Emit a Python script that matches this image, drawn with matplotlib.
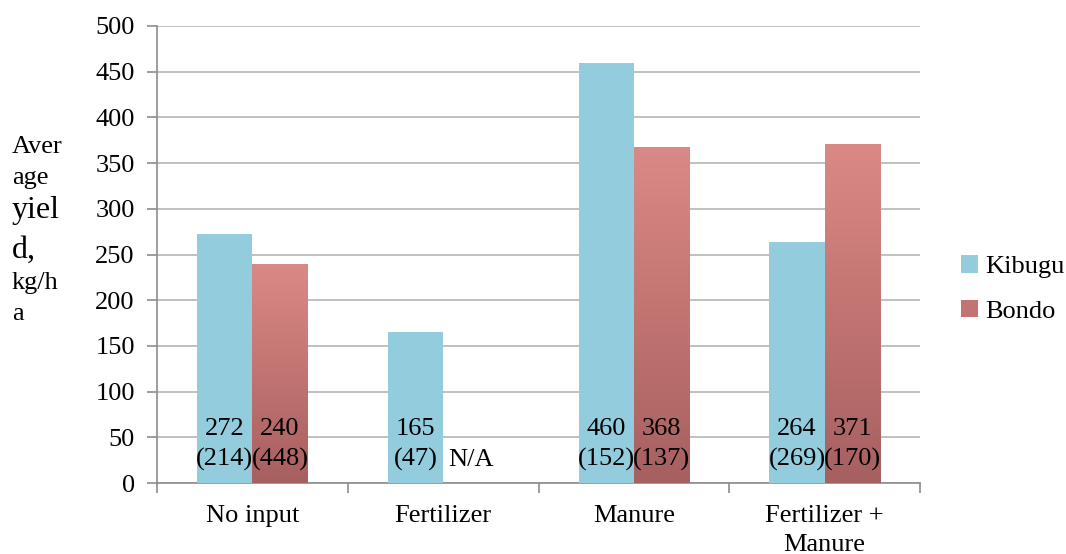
import numpy as np
import matplotlib.pyplot as plt
import matplotlib.transforms as mtransforms
from matplotlib.colors import LinearSegmentedColormap
from matplotlib.patches import Patch

categories = ["No input", "Fertilizer", "Manure", "Fertilizer +\nManure"]
kibugu = [272, 165, 460, 264]
bondo = [240, None, 368, 371]
kibugu_n = [214, 47, 152, 269]
bondo_n = [448, None, 137, 170]

plt.rcParams['font.family'] = ['Liberation Serif', 'DejaVu Serif']

fig = plt.figure(figsize=(10.66, 5.54), dpi=100)
ax = fig.add_axes([157 / 1066, 1 - 483 / 554, (920 - 157) / 1066, (483 - 26) / 554])

blue = "#93cddd"
bondo_cmap = LinearSegmentedColormap.from_list("bondo", ["#a66060", "#c27472", "#da8a86"])

x = np.arange(len(categories))
w = 0.29
FS = 19

ax.set_xlim(-0.5, len(categories) - 0.5)
ax.set_ylim(0, 500)

lift = ax.transData + mtransforms.ScaledTranslation(0, 0.12, fig.dpi_scale_trans)
grad = np.linspace(0, 1, 256).reshape(-1, 1)
for i in range(len(categories)):
    ax.bar(x[i] - w / 2, kibugu[i], w, color=blue, zorder=3)
    ax.text(x[i] - w / 2, 0, f"{kibugu[i]}\n({kibugu_n[i]})", ha="center", va="bottom",
            fontsize=FS, linespacing=1.42, zorder=5, transform=lift)
    if bondo[i] is not None:
        bb = ax.bar(x[i] + w / 2, bondo[i], w, color="none", zorder=3)[0]
        im = ax.imshow(grad, cmap=bondo_cmap, origin="lower", aspect="auto",
                       extent=[x[i], x[i] + w, 0, bondo[i]], zorder=3)
        im.set_clip_path(bb)
        label = f"{bondo[i]}\n({bondo_n[i]})"
    else:
        label = "N/A"
    ax.text(x[i] + w / 2, 0, label, ha="center", va="bottom", fontsize=FS,
            linespacing=1.42, zorder=5, transform=lift)

ax.set_xlim(-0.5, len(categories) - 0.5)
ax.set_ylim(0, 500)
ax.set_yticks(np.arange(0, 501, 50))
ax.yaxis.grid(True, color="#b5b5b5", linewidth=1.2, zorder=0)
ax.set_axisbelow(True)

ax.set_xticks(np.arange(-0.5, len(categories) - 0.4, 1.0))
ax.set_xticklabels([])
ax.set_xticks(x, minor=True)
ax.set_xticklabels(categories, minor=True, fontsize=FS, linespacing=1.4)
ax.tick_params(axis="x", which="minor", length=0, pad=16)
ax.tick_params(axis="x", which="major", length=7, color="#8c8c8c", width=1.2)
ax.tick_params(axis="y", length=7, color="#8c8c8c", width=1.2, labelsize=FS, pad=9)

for s in ["top", "right"]:
    ax.spines[s].set_visible(False)
for s in ["left", "bottom"]:
    ax.spines[s].set_color("#8c8c8c")
    ax.spines[s].set_linewidth(1.2)

# y-axis title broken over several lines
ylab = [("Aver", 19, 147), ("age", 19, 178), ("yiel", 23, 210), ("d,", 23, 250),
        ("kg/h", 19, 283), ("a", 19, 314)]
for txt, size, ypix in ylab:
    fig.text(12 / 1066, 1 - ypix / 554, txt, fontsize=size, va="center", ha="left")

handles = [Patch(facecolor=blue, label="Kibugu"),
           Patch(facecolor="#c27472", label="Bondo")]
fig.legend(handles=handles, loc="center left", bbox_to_anchor=(961 / 1066, 1 - 289 / 554),
           frameon=False, fontsize=FS, handlelength=0.65, handleheight=0.65,
           handletextpad=0.25, labelspacing=0.8, borderpad=0, borderaxespad=0)

fig.savefig("out.png", dpi=100)
